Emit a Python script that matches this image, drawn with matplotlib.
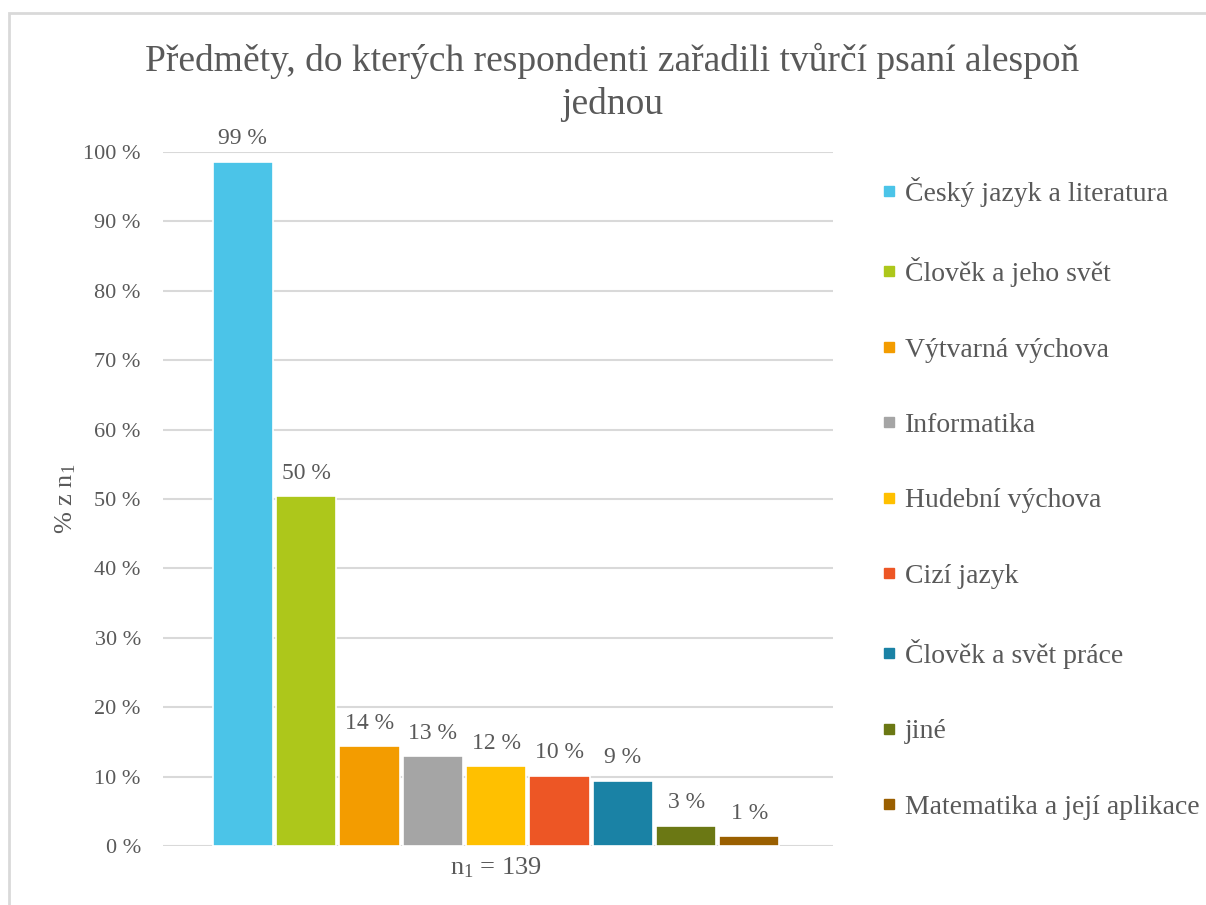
import matplotlib
matplotlib.use('Agg')
import matplotlib.pyplot as plt
from matplotlib.lines import Line2D
from matplotlib.patches import Rectangle

plt.rcParams['font.family'] = ['Liberation Serif', 'DejaVu Serif']
plt.rcParams['mathtext.fontset'] = 'custom'
plt.rcParams['mathtext.rm'] = 'Liberation Serif'
plt.rcParams['mathtext.it'] = 'Liberation Serif:italic'

subjects = ['Český jazyk a literatura', 'Člověk a jeho svět', 'Výtvarná výchova',
            'Informatika', 'Hudební výchova', 'Cizí jazyk', 'Člověk a svět práce',
            'jiné', 'Matematika a její aplikace']
values = [98.6, 50.4, 14.4, 12.9, 11.5, 10.1, 9.4, 2.9, 1.4]
labels = ['99 %', '50 %', '14 %', '13 %', '12 %', '10 %', '9 %', '3 %', '1 %']
colors = ['#4BC4E8', '#ADC71B', '#F39C00', '#A5A5A5', '#FFC000',
          '#ED5625', '#1A82A5', '#6B7814', '#9A5F00']
yticks = [0, 10, 20, 30, 40, 50, 60, 70, 80, 90, 100]
title_lines = ['Předměty, do kterých respondenti zařadili tvůrčí psaní alespoň', 'jednou']

txt = '#595959'

fig = plt.figure(figsize=(12.06, 9.05), dpi=100)
fig.patches.append(Rectangle((9 / 1206, -0.1), 1.2, 1 - 13 / 905 + 0.1,
                             transform=fig.transFigure, fill=False,
                             edgecolor='#D9D9D9', linewidth=2))

ax = fig.add_axes([163 / 1206, 59 / 905, 670 / 1206, 694 / 905])
x = list(range(len(values)))
ax.bar(x, values, width=0.95, color=colors, edgecolor='white', linewidth=1.2, zorder=3)
for xi, v, lab in zip(x, values, labels):
    ax.text(xi, v + 1.8, lab, ha='center', va='bottom', fontsize=17, color=txt)

ax.set_xlim(-1.26, 9.32)
ax.set_ylim(0, 100)
ax.set_yticks(yticks)
ax.set_yticklabels([f'{t} %' for t in yticks], fontsize=16, color=txt)
ax.set_xticks([4])
ax.set_xticklabels([r'n$_1$ = 139'], fontsize=19, color=txt)
ax.tick_params(length=0)
ax.tick_params(axis='y', pad=16)
ax.tick_params(axis='x', pad=7)
ax.grid(axis='y', color='#D9D9D9', linewidth=1.5, zorder=0)
for s in ax.spines.values():
    s.set_visible(False)

ax.set_ylabel(r'% z n$_1$', fontsize=19, color=txt, labelpad=4)

fig.text(612 / 1206, 1 - 71 / 905, title_lines[0], ha='center', va='baseline',
         fontsize=27, color=txt)
fig.text(612 / 1206, 1 - 114 / 905, title_lines[1], ha='center', va='baseline',
         fontsize=27, color=txt)

handles = [Line2D([], [], marker='s', linestyle='', markersize=7, color=c) for c in colors]
fig.legend(handles, subjects, loc='upper left', bbox_to_anchor=(870 / 1206, 1 - 166 / 905),
           frameon=False, fontsize=20, labelcolor=txt, handletextpad=0.25,
           labelspacing=1.8, handlelength=0.6, borderaxespad=0)

fig.savefig('out.png', dpi=100)
